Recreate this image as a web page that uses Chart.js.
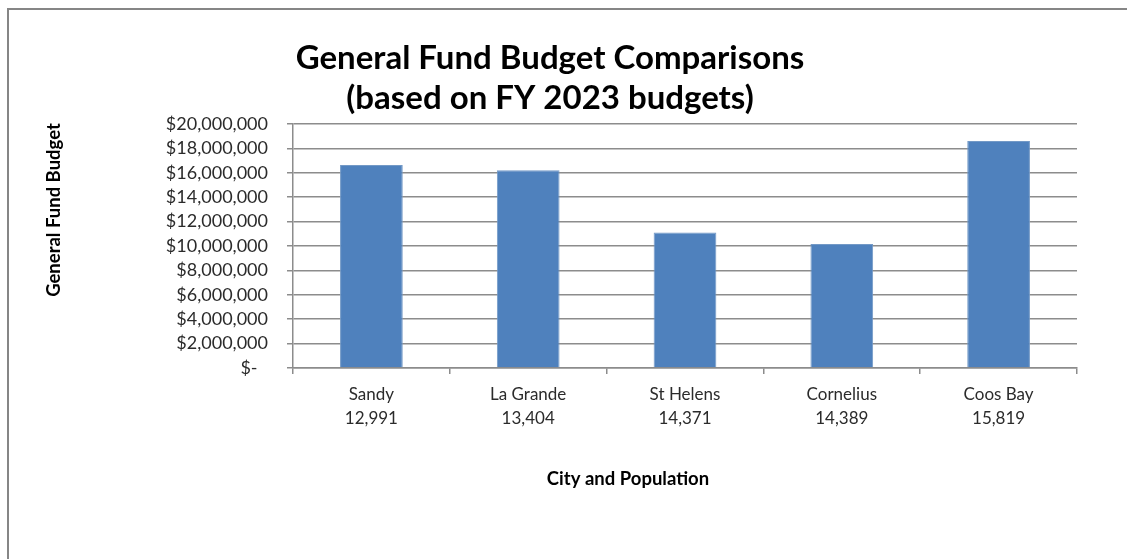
<!DOCTYPE html>
<html>
<head>
<meta charset="utf-8">
<title>General Fund Budget Comparisons</title>
<script src="https://cdn.jsdelivr.net/npm/chart.js@4/dist/chart.umd.min.js"></script>
<style>
  html, body { margin: 0; padding: 0; background: #fff; overflow: hidden; }
  #wrap { position: relative; width: 1127px; height: 559px; }
  #frame { position: absolute; left: 7px; top: 8px; width: 1200px; height: 600px; border: 2px solid #868686; box-sizing: border-box; }
  #chart { position: absolute; left: 0; top: 0; }
</style>
</head>
<body>
<div id="wrap">
  <div id="frame"></div>
  <canvas id="chart" width="1127" height="559"></canvas>
</div>
<script>
// data
const cities = ['Sandy', 'La Grande', 'St Helens', 'Cornelius', 'Coos Bay'];
const populations = ['12,991', '13,404', '14,371', '14,389', '15,819'];
const budgets = [16630000, 16210000, 11110000, 10170000, 18600000];
const yMax = 20000000;
const yStep = 2000000;

const chartTitle = ['General Fund Budget Comparisons', '(based on FY 2023 budgets)'];
const xTitle = 'City and Population';
const yTitle = 'General Fund Budget';

const FONT = 'Lato';
const gridGray = '#8c8c8c';

// axis titles sit off-centre in the original, so draw them by hand
const axisTitles = {
	id: 'axisTitles',
	afterDraw(chart) {
		const ctx = chart.ctx;
		const area = chart.chartArea;
		ctx.save();
		ctx.fillStyle = '#000';
		ctx.textAlign = 'center';
		ctx.textBaseline = 'middle';
		ctx.font = 'bold 18.5px ' + FONT;
		ctx.fillText(xTitle, 628, area.bottom + 111);
		ctx.translate(54, 210);
		ctx.rotate(-Math.PI / 2);
		ctx.fillText(yTitle, 0, 0);
		ctx.restore();
	}
};

const formatMoney = (v) => v === 0 ? '$-\u2007' : '$' + v.toLocaleString('en-US');

new Chart(document.getElementById('chart'), {
	type: 'bar',
	data: {
		labels: cities.map((c, i) => [c, populations[i]]),
		datasets: [{
			label: 'General Fund Budget',
			data: budgets,
			backgroundColor: '#4f81bd',
			borderColor: '#7399c6',
			borderWidth: 1,
			barPercentage: 0.4,
			categoryPercentage: 1
		}]
	},
	options: {
		responsive: false,
		animation: false,
		layout: { padding: { left: 23, right: 50, top: 0, bottom: 119 } },
		plugins: {
			legend: { display: false },
			tooltip: { enabled: false },
			title: {
				display: true,
				text: chartTitle,
				color: '#000',
				font: { family: FONT, size: 33, weight: 'bold', lineHeight: 1.212 },
				padding: { top: 38, bottom: 6 }
			}
		},
		scales: {
			x: {
				grid: { drawOnChartArea: false, drawTicks: true, tickLength: 6, color: gridGray, lineWidth: 1.5 },
				border: { color: gridGray, width: 1.5 },
				ticks: { color: '#2b2b2b', padding: 9, font: { family: FONT, size: 17, lineHeight: 1.412 } }
			},
			y: {
				min: 0,
				max: yMax,
				afterFit: (s) => { s.width = 270; },
				grid: { color: gridGray, lineWidth: 1.5, tickLength: 6 },
				border: { color: gridGray, width: 1.5 },
				ticks: {
					stepSize: yStep,
					autoSkip: false,
					color: '#2b2b2b',
					padding: 19,
					font: { family: FONT, size: 18, lineHeight: 1 },
					callback: formatMoney
				}
			}
		}
	},
	plugins: [axisTitles]
});
</script>
</body>
</html>
